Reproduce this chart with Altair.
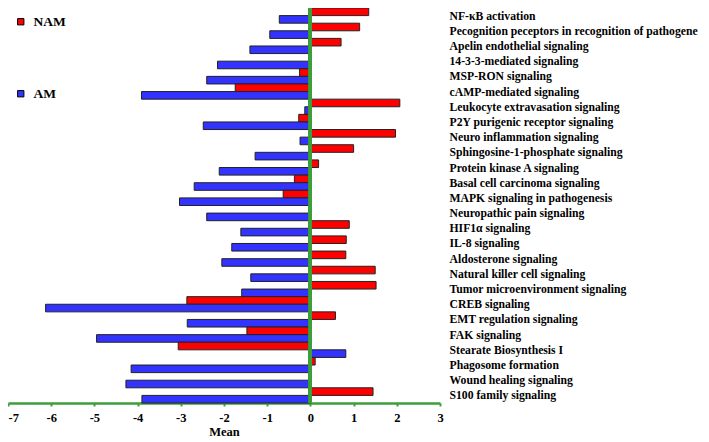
import altair as alt
import pandas as pd

categories = [
    "NF-κB activation",
    "Pecognition peceptors in recognition of pathogene",
    "Apelin endothelial signaling",
    "14-3-3-mediated signaling",
    "MSP-RON signaling",
    "cAMP-mediated signaling",
    "Leukocyte extravasation signaling",
    "P2Y purigenic receptor signaling",
    "Neuro inflammation signaling",
    "Sphingosine-1-phosphate signaling",
    "Protein kinase A signaling",
    "Basal cell carcinoma signaling",
    "MAPK signaling in pathogenesis",
    "Neuropathic pain signaling",
    "HIF1α signaling",
    "IL-8 signaling",
    "Aldosterone signaling",
    "Natural killer cell signaling",
    "Tumor microenvironment signaling",
    "CREB signaling",
    "EMT regulation signaling",
    "FAK signaling",
    "Stearate Biosynthesis I",
    "Phagosome formation",
    "Wound healing signaling",
    "S100 family signaling",
]
nam_values = [1.35, 1.14, 0.71, 0.0, -0.25, -1.74, 2.07, -0.27, 1.97, 1.00,
              0.19, -0.37, -0.63, 0.0, 0.90, 0.83, 0.82, 1.50, 1.52, -2.86,
              0.58, -1.47, -3.06, 0.11, 0.0, 1.45]
am_values = [-0.72, -0.94, -1.40, -2.15, -2.40, -3.91, -0.13, -2.48, -0.24, -1.28,
             -2.11, -2.69, -3.03, -2.40, -1.61, -1.82, -2.05, -1.38, -1.59, -6.13,
             -2.85, -4.95, 0.82, -4.15, -4.27, -3.90]
series = ["NAM", "AM"]
series_colors = ["#ff0000", "#3333ff"]
x_ticks = list(range(-7, 4))

rows = []
for c, n, a in zip(categories, nam_values, am_values):
    rows.append({"pathway": c, "group": series[0], "mean": n})
    rows.append({"pathway": c, "group": series[1], "mean": a})
df = pd.DataFrame(rows)

FONT = "Liberation Serif"
GREEN = "#3c9f3c"

bars = alt.Chart(df).mark_bar(stroke="#222222", strokeWidth=1).encode(
    x=alt.X(
        "mean:Q",
        scale=alt.Scale(domain=[-7, 3], nice=False, zero=False),
        axis=alt.Axis(
            values=x_ticks, title="Mean", grid=False,
            labelExpr="(datum.value < 0 ? '-' : '') + abs(datum.value)",
            domainColor=GREEN, domainWidth=2.5,
            tickColor=GREEN, tickWidth=2, tickSize=3,
            labelFont=FONT, labelFontSize=12.5, labelFontWeight="bold", labelColor="black",
            labelPadding=5,
            labelAlign={"condition": {"test": "datum.value == -7", "value": "left"}, "value": "center"},
            titleFont=FONT, titleFontSize=12.5, titleFontWeight="bold", titleColor="black",
            titlePadding=2,
        ),
    ),
    y=alt.Y(
        "pathway:N", sort=categories,
        scale=alt.Scale(paddingInner=0, paddingOuter=0),
        axis=alt.Axis(
            orient="right", title=None, domain=False, ticks=False,
            labelPadding=9, labelAlign="left", labelBaseline="middle",
            labelFont=FONT, labelFontSize=11.7, labelFontWeight="bold", labelColor="black",
            labelLimit=400,
        ),
    ),
    yOffset=alt.YOffset("group:N", sort=series, scale=alt.Scale(paddingInner=0, paddingOuter=0)),
    color=alt.Color(
        "group:N", sort=series,
        scale=alt.Scale(domain=series, range=series_colors),
        legend=alt.Legend(
            title=None, orient="none", legendX=6, legendY=7, padding=0,
            symbolType="square", symbolSize=40, symbolStrokeColor="black", symbolStrokeWidth=1,
            labelFont=FONT, labelFontSize=13.5, labelFontWeight="bold", labelColor="black",
            labelOffset=6, rowPadding=57,
        ),
    ),
)

zero_line = alt.Chart(df).mark_rule(color=GREEN, strokeWidth=3).encode(x=alt.datum(0))

chart = alt.layer(bars, zero_line).properties(
    width=432,
    height=395,
    autosize=alt.AutoSizeParams(type="none"),
    padding={"left": 0, "top": 0, "right": 261, "bottom": 36},
).configure_view(stroke=None)

chart.save("out.html", embed_options={"renderer": "svg", "actions": False})
